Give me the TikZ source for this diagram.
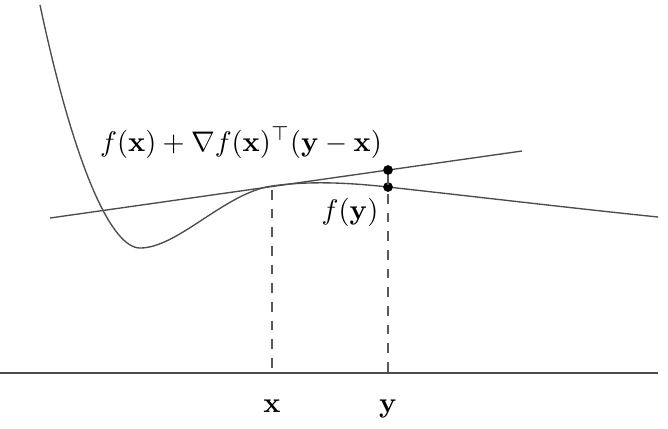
\documentclass[tikz,border=0pt]{standalone}
\usepackage{amsmath}
\begin{document}
\begin{tikzpicture}[x=0.37pt,y=-0.37pt,
  curve/.style={draw=black!70,line width=0.5pt},
  guide/.style={draw=black!65,line width=0.45pt,dash pattern=on 3.6pt off 3.3pt},
  dot/.style={circle,fill=black,inner sep=0pt,minimum size=3.6pt},
  lbl/.style={anchor=base,scale=1.05}]
\useasboundingbox (0,0) rectangle (668,428);
% axis
\coordinate (axL) at (0,373);
\coordinate (axR) at (658,373);
\draw[curve] (axL) -- (axR);
% function
\coordinate (fa) at (40,5);
\coordinate (fmin) at (140,248);
\coordinate (fx) at (272,186);
\coordinate (fy) at (388,187);
\coordinate (fe) at (658,217);
\draw[curve] (fa) .. controls (75,170) and (112,248) .. (fmin)
  .. controls (178,248) and (225,192.7) .. (fx)
  .. controls (310,180.6) and (350,182.8) .. (fy)
  .. controls (480,197.2) and (580,209) .. (fe);
% tangent
\coordinate (tL) at (50,218);
\coordinate (tR) at (522,151);
\draw[curve] (tL) -- (tR);
% points
\node[dot] (py) at (388,187) {};
\node[dot] (pt) at (388,170) {};
\coordinate (gx) at (272,190);
\coordinate (bx) at (272,373);
\coordinate (by) at (388,373);
\draw[guide] (gx) -- (bx);
\draw[guide] (pt) -- (by);
% labels
\node[lbl] (lx) at (272,412) {$\mathbf{x}$};
\node[lbl] (ly) at (388,412) {$\mathbf{y}$};
\node[lbl] (lfy) at (350,219) {$f(\mathbf{y})$};
\node[lbl] (ltan) at (241,151) {$f(\mathbf{x})+\nabla f(\mathbf{x})^{\top}(\mathbf{y}-\mathbf{x})$};
\end{tikzpicture}
\end{document}
